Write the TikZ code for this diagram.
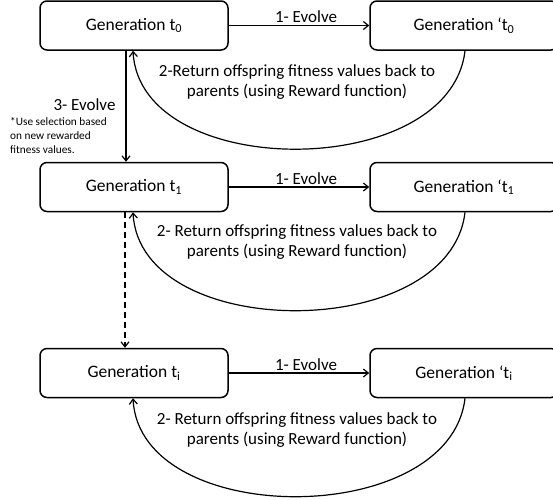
\documentclass[tikz,border=0pt]{standalone}
\usepackage{fontspec}
\setmainfont{Carlito}
\usetikzlibrary{arrows.meta}
\begin{document}
\begin{tikzpicture}[x=1pt,y=-1pt,
  gen/.style={draw, line width=1.5pt, rounded corners=7pt, minimum width=188pt, minimum height=49pt, inner sep=0pt, font=\fontsize{17.5}{20}\selectfont},
  conn/.style={line width=1.2pt, -{Straight Barb[length=5pt,width=8pt]}},
  lbl/.style={font=\fontsize{17}{20}\selectfont, align=center},
  note/.style={font=\fontsize{11.3}{14}\selectfont, align=left, anchor=north west, inner sep=0pt}]
\useasboundingbox (0,0) rectangle (553,499);
\clip (0,0) rectangle (553,499);
\node[gen] (g0) at (134,25.5) {Generation t\textsubscript{0}};
\node[gen] (g0p) at (464,25.5) {Generation ‘t\textsubscript{0}};
\node[gen] (g1) at (134,187) {Generation t\textsubscript{1}};
\node[gen] (g1p) at (464,187) {Generation ‘t\textsubscript{1}};
\node[gen] (gi) at (134,373) {Generation t\textsubscript{i}};
\node[gen] (gip) at (464,373) {Generation ‘t\textsubscript{i}};
% 1- Evolve
\draw[conn] (g0) -- node[lbl, above, pos=0.55, inner sep=2pt] {1- Evolve} (g0p);
\draw[conn] (g1) -- node[lbl, above, pos=0.55, inner sep=2pt] {1- Evolve} (g1p);
\draw[conn] (gi) -- node[lbl, above, pos=0.55, inner sep=2pt] {1- Evolve} (gip);
% return curves
\draw[conn] (g0p.south) ++(1,0) .. controls +(-15,131) and +(7,131) .. ([xshift=-1pt]g0.south);
\draw[conn] (g1p.south) ++(1,0) .. controls +(-15,131) and +(7,131) .. ([xshift=-1pt]g1.south);
\draw[conn] (gip.south) ++(1,0) .. controls +(-15,131) and +(7,131) .. ([xshift=-1pt]gi.south);
\node[lbl] (r0) at (297,82) {2-Return offspring fitness values back to\\parents (using Reward function)};
\node[lbl] (r1) at (297,242) {2- Return offspring fitness values back to\\parents (using Reward function)};
\node[lbl] (ri) at (297,430) {2- Return offspring fitness values back to\\parents (using Reward function)};
% vertical arrows
\draw[conn] ([xshift=-8pt]g0.south) -- ([xshift=-8pt]g1.north);
\node[lbl, anchor=east] (e3) at (119,105) {3- Evolve};
\node[note] (n3) at (10,117) {*Use selection based\\on new rewarded\\fitness values.};
\draw[conn, dashed, dash pattern=on 6pt off 4pt] ([xshift=-9pt]g1.south) -- ([xshift=-9pt]gi.north);
\end{tikzpicture}
\end{document}
